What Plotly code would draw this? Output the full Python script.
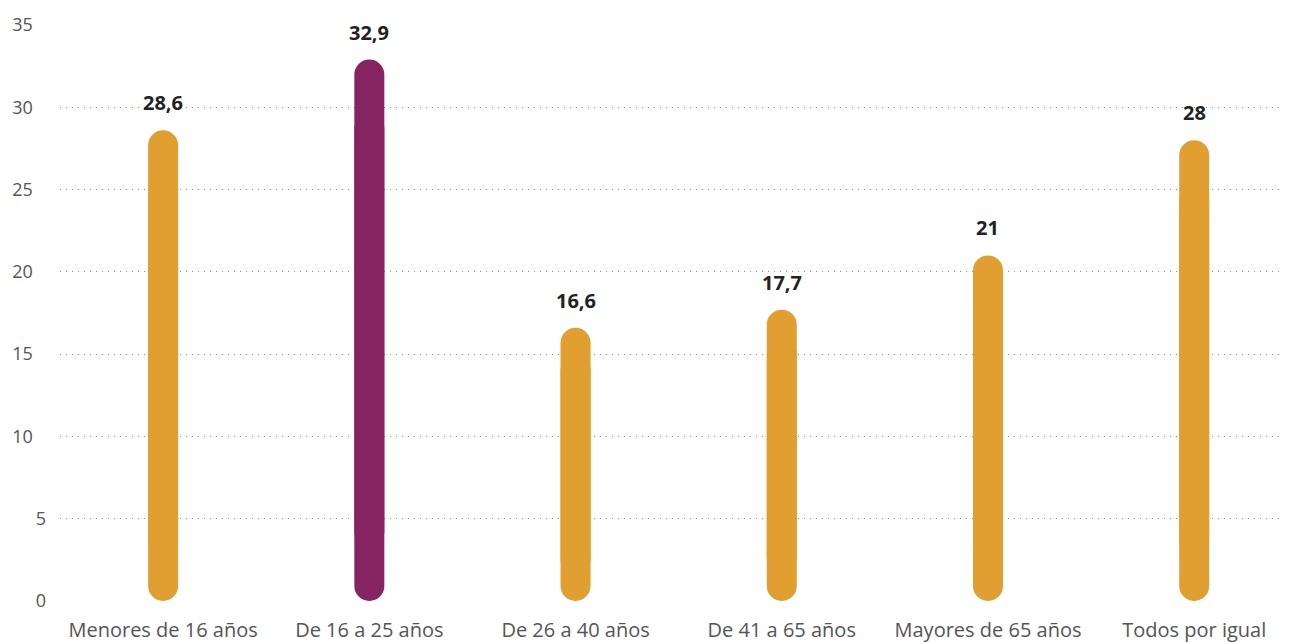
import plotly.graph_objects as go

categories = ["Menores de 16 años", "De 16 a 25 años", "De 26 a 40 años",
              "De 41 a 65 años", "Mayores de 65 años", "Todos por igual"]
values = [28.6, 32.9, 16.6, 17.7, 21, 28]
labels = ["28,6", "32,9", "16,6", "17,7", "21", "28"]
highlight = "De 16 a 25 años"
ytick_vals = [0, 5, 10, 15, 20, 25, 30, 35]

ORANGE = "#E19F31"
PURPLE = "#862462"
FONT = "Open Sans"
colors = [PURPLE if c == highlight else ORANGE for c in categories]

xs = list(range(len(categories)))
# two overlapping pieces so that both ends of every bar come out rounded
upper_base = [v * 0.1 for v in values]
upper_len = [v * 0.9 for v in values]
lower_base = [v * 0.9 for v in values]
lower_len = [-v * 0.9 for v in values]

fig = go.Figure()
fig.add_trace(go.Bar(x=xs, y=upper_len, base=upper_base,
                     marker=dict(color=colors, cornerradius=15, line=dict(width=0)),
                     width=0.1455, hoverinfo="skip", showlegend=False))
fig.add_trace(go.Bar(x=xs, y=lower_len, base=lower_base,
                     marker=dict(color=colors, cornerradius=15, line=dict(width=0)),
                     width=0.1455, hoverinfo="skip", showlegend=False))

for x, v, t in zip(xs, values, labels):
    fig.add_annotation(x=x, y=v, text="<b>" + t + "</b>", showarrow=False, yanchor="bottom", yshift=12,
                       font=dict(size=20, color="#222222", family=FONT))

ytick_text = [str(v) + ("\u2007\u2009" if v >= 10 else "") for v in ytick_vals]

fig.update_layout(
    barmode="overlay",
    width=1289, height=642,
    margin=dict(l=52, r=10, t=17, b=49, autoexpand=False),
    plot_bgcolor="white", paper_bgcolor="white",
    font=dict(family=FONT, color="#555555"),
    xaxis=dict(tickmode="array", tickvals=xs, ticktext=categories, range=[-0.5, 5.45],
               showgrid=False, zeroline=False, showline=False, ticks="", automargin=False,
               tickfont=dict(size=20, color="#555555"), ticklabelstandoff=15),
    yaxis=dict(range=[0, 35], tickmode="array", tickvals=ytick_vals, ticktext=ytick_text,
               showgrid=True, gridcolor="#8a8a8a", griddash="1px,5px", gridwidth=1,
               zeroline=False, showline=False, automargin=False,
               ticks="", tickfont=dict(size=18, color="#555555"), ticklabelstandoff=13),
)

fig.write_html("out.html")
